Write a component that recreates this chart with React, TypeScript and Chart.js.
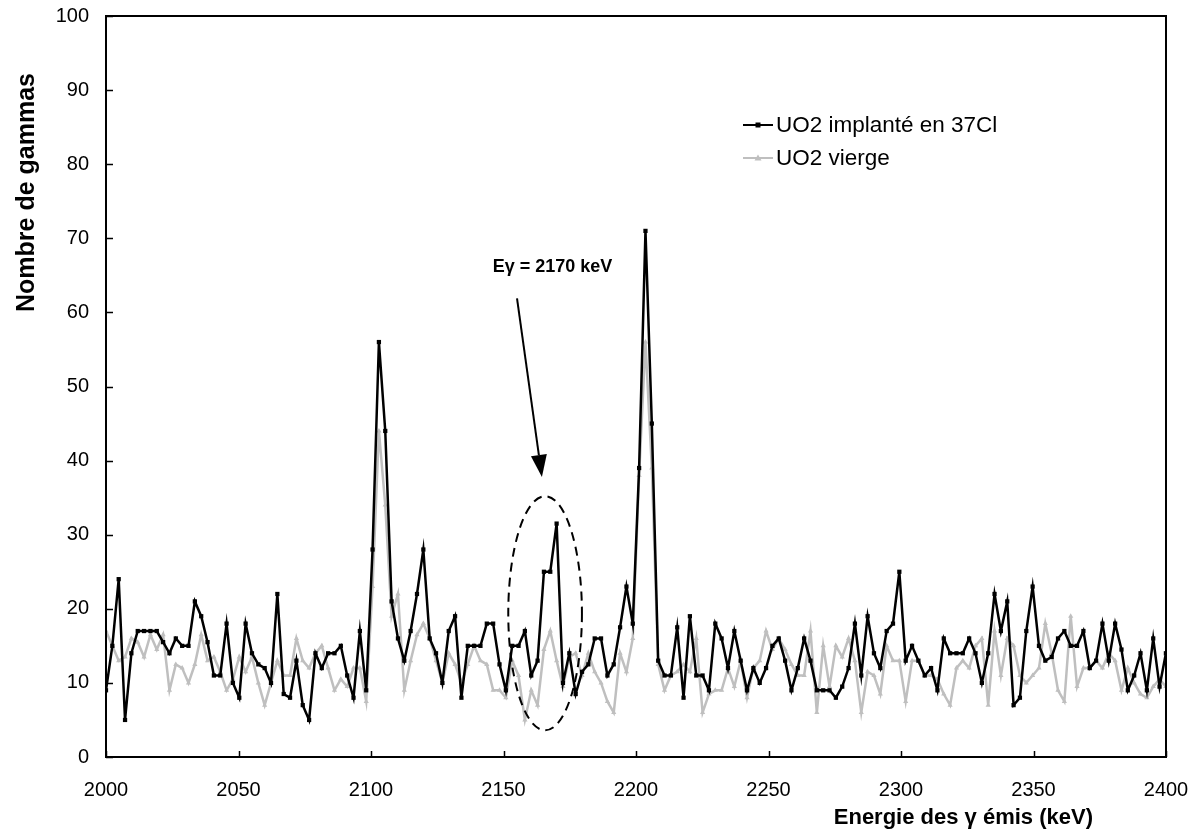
import React, { useEffect, useRef } from 'react';
import { Chart, registerables } from 'chart.js';

Chart.register(...registerables);

// Spectrum channel calibration (keV)
const ENERGY_START = 2000;
const CHANNEL_WIDTH = 2.395;

const X_MIN = 2000;
const X_MAX = 2400;
const X_STEP = 50;
const Y_MIN = 0;
const Y_MAX = 100;
const Y_STEP = 10;

const SERIES_LABELS = ['UO2 implanté en 37Cl', 'UO2 vierge'];
const X_TITLE = 'Energie des γ émis (keV)';
const Y_TITLE = 'Nombre de gammas';
const ANNOTATION_TEXT = 'Eγ = 2170 keV';

// counts per channel, implanted sample
const IMPLANTED = [
  9, 15, 24, 5, 14, 17, 17, 17, 17, 15.5,
  14, 16, 15, 15, 21, 19, 15.5, 11, 11, 18,
  10, 8, 18, 14, 12.5, 12, 10, 22, 8.5, 8,
  13, 7, 5, 14, 12, 14, 14, 15, 11, 8,
  17, 9, 28, 56, 44, 21, 16, 13, 17, 22,
  28, 16, 14, 10, 17, 19, 8, 15, 15, 15,
  18, 18, 12.5, 9, 15, 15, 17, 11, 13, 25,
  25, 31.5, 10, 14, 8.5, 11.5, 12.5, 16, 16, 11,
  12.5, 17.5, 23, 18, 39, 71, 45, 13, 11, 11,
  17.5, 8, 19, 11, 11, 9, 18, 16, 12, 17,
  13, 9, 12, 10, 12, 15, 16, 13, 9, 12,
  16, 13, 9, 9, 9, 8, 9.5, 12, 18, 11,
  19, 14, 12, 17, 18, 25, 13, 15, 13, 11,
  12, 9, 16, 14, 14, 14, 16, 14, 10, 14,
  22, 17, 21, 7, 8, 17, 23, 15, 13, 13.5,
  16, 17, 15, 15, 17, 12, 13, 18, 13, 18,
  14.5, 9, 11, 14, 9, 16, 9.5, 14,
];

// counts per channel, virgin sample
const VIRGIN = [
  17, 15, 13, 13.5, 16, 15.5, 13.5, 16.5, 14.5, 16.5,
  9, 12.5, 12, 10, 12.5, 16.5, 13, 13.5, 11.5, 9,
  10.5, 13.5, 11.5, 13.5, 10, 7, 10, 13, 11, 11,
  16, 13, 12, 14, 15, 12, 9, 10.5, 9.5, 12,
  12, 7.5, 23, 44, 34, 19, 22, 9, 13, 16.5,
  18, 16, 13, 10, 14, 12.5, 10, 12.5, 15, 13,
  12.5, 9, 9, 8, 13, 11, 5, 9, 7, 14.5,
  17, 13, 9.5, 13.5, 14, 11, 14, 11.5, 10, 7.5,
  6, 14, 11.5, 16, 38, 56, 39, 12.5, 9, 11,
  11.5, 12.5, 11.5, 16, 6, 8.5, 9, 9, 12, 9.5,
  13, 8, 12, 13, 17, 14.5, 16, 14.5, 12.5, 11,
  11, 17, 6, 15, 9.5, 15, 13.5, 16, 13, 6,
  11.5, 11, 8.5, 15, 13, 13, 7.5, 13, 13, 11,
  11, 10.5, 8.5, 7, 12, 13, 12, 15, 16, 7,
  17, 11, 16, 15, 11, 10, 11, 12, 18, 14,
  9, 7.5, 19, 9.5, 12, 12, 13, 12, 14, 13,
  9, 12, 10, 8.5, 8, 9.5, 10.5, 9.5,
];

// Annotation placed in data units (keV, counts)
const ELLIPSE = { cx: 2165.7, cy: 19.4, rx: 13.9, ry: 15.8 };
const ARROW = { x0: 2155.1, y0: 61.9, x1: 2164.5, y1: 37.8 };
const LABEL_POS = { x: 2168.5, y: 66.1 };

const BLACK = '#000000';
const GREY = '#bfbfbf';
const FONT = '"Liberation Sans", Arial, sans-serif';

const toPoints = (vals: number[]) =>
  vals.map((v, i) => ({ x: ENERGY_START + i * CHANNEL_WIDTH, y: v }));

const zeroPadding = (s: any) => {
  s.paddingTop = 0;
  s.paddingBottom = 0;
  s.paddingLeft = 0;
  s.paddingRight = 0;
};

export default function App() {
  const ref = useRef<HTMLCanvasElement | null>(null);

  useEffect(() => {
    if (!ref.current) return;

    const overlay = {
      id: 'overlay',
      afterDatasetsDraw(chart: any) {
        const { ctx, chartArea: a, scales } = chart;
        const x = scales.x;
        const y = scales.y;
        ctx.save();
        // frame
        ctx.strokeStyle = '#000';
        ctx.lineWidth = 2;
        ctx.setLineDash([]);
        ctx.strokeRect(a.left, a.top, a.right - a.left, a.bottom - a.top);
        // inside tick marks
        ctx.lineWidth = 1.5;
        ctx.beginPath();
        y.ticks.forEach((t: any) => {
          const py = Math.round(y.getPixelForValue(t.value)) + 0.5;
          ctx.moveTo(a.left, py);
          ctx.lineTo(a.left + 7, py);
        });
        x.ticks.forEach((t: any) => {
          const px = Math.round(x.getPixelForValue(t.value)) + 0.5;
          ctx.moveTo(px, a.bottom);
          ctx.lineTo(px, a.bottom - 6);
        });
        ctx.stroke();

        // dashed ellipse
        const ecx = x.getPixelForValue(ELLIPSE.cx);
        const ecy = y.getPixelForValue(ELLIPSE.cy);
        const erx = Math.abs(x.getPixelForValue(ELLIPSE.cx + ELLIPSE.rx) - ecx);
        const ery = Math.abs(y.getPixelForValue(ELLIPSE.cy + ELLIPSE.ry) - ecy);
        ctx.lineWidth = 2;
        ctx.setLineDash([9, 6]);
        ctx.beginPath();
        ctx.ellipse(ecx, ecy, erx, ery, 0, 0, Math.PI * 2);
        ctx.stroke();
        ctx.setLineDash([]);

        // arrow
        const ax0 = x.getPixelForValue(ARROW.x0);
        const ay0 = y.getPixelForValue(ARROW.y0);
        const ax1 = x.getPixelForValue(ARROW.x1);
        const ay1 = y.getPixelForValue(ARROW.y1);
        const ang = Math.atan2(ay1 - ay0, ax1 - ax0);
        const headLen = 22;
        const headW = 8;
        const bx = ax1 - headLen * Math.cos(ang);
        const by = ay1 - headLen * Math.sin(ang);
        ctx.lineWidth = 2;
        ctx.beginPath();
        ctx.moveTo(ax0, ay0);
        ctx.lineTo(bx, by);
        ctx.stroke();
        ctx.fillStyle = '#000';
        ctx.beginPath();
        ctx.moveTo(ax1, ay1);
        ctx.lineTo(bx + headW * Math.sin(ang), by - headW * Math.cos(ang));
        ctx.lineTo(bx - headW * Math.sin(ang), by + headW * Math.cos(ang));
        ctx.closePath();
        ctx.fill();

        // annotation text
        ctx.font = `bold 18px ${FONT}`;
        ctx.textAlign = 'center';
        ctx.textBaseline = 'middle';
        ctx.fillText(
          ANNOTATION_TEXT,
          x.getPixelForValue(LABEL_POS.x),
          y.getPixelForValue(LABEL_POS.y)
        );

        // legend
        const ds = chart.data.datasets;
        const legendX = 743;
        const legendY = [125, 158];
        ds.forEach((d: any, i: number) => {
          const ly = legendY[i];
          ctx.strokeStyle = d.borderColor;
          ctx.fillStyle = d.borderColor;
          ctx.lineWidth = 2;
          ctx.beginPath();
          ctx.moveTo(legendX, ly);
          ctx.lineTo(legendX + 30, ly);
          ctx.stroke();
          const mx = legendX + 15;
          ctx.beginPath();
          if (d.pointStyle === 'rect') {
            ctx.rect(mx - 2.5, ly - 2.5, 5, 5);
          } else {
            ctx.moveTo(mx, ly - 3.5);
            ctx.lineTo(mx + 3.5, ly + 2.5);
            ctx.lineTo(mx - 3.5, ly + 2.5);
            ctx.closePath();
          }
          ctx.fill();
          ctx.fillStyle = '#000';
          ctx.font = `22.5px ${FONT}`;
          ctx.textAlign = 'left';
          ctx.textBaseline = 'middle';
          ctx.fillText(d.label, legendX + 33, ly + 1);
        });

        // axis titles
        ctx.fillStyle = '#000';
        ctx.font = `bold 22px ${FONT}`;
        ctx.textAlign = 'right';
        ctx.textBaseline = 'middle';
        ctx.fillText(X_TITLE, 1093, 818);

        ctx.save();
        ctx.translate(34, 192.5);
        ctx.rotate(-Math.PI / 2);
        ctx.font = `bold 25px ${FONT}`;
        ctx.textAlign = 'center';
        ctx.textBaseline = 'alphabetic';
        ctx.fillText(Y_TITLE, 0, 0);
        ctx.restore();

        ctx.restore();
      },
    };

    const chart = new Chart(ref.current, {
      type: 'line',
      data: {
        datasets: [
          {
            label: SERIES_LABELS[0],
            data: toPoints(IMPLANTED),
            borderColor: BLACK,
            backgroundColor: BLACK,
            borderWidth: 2.5,
            pointStyle: 'rect',
            pointRadius: 3,
            pointBorderWidth: 0,
            tension: 0,
            order: 0,
          },
          {
            label: SERIES_LABELS[1],
            data: toPoints(VIRGIN),
            borderColor: GREY,
            backgroundColor: GREY,
            borderWidth: 2.5,
            pointStyle: 'triangle',
            pointRadius: 3,
            pointBorderWidth: 0,
            tension: 0,
            order: 1,
          },
        ],
      },
      options: {
        animation: false,
        responsive: false,
        devicePixelRatio: 1,
        layout: { padding: { left: 0, top: 16, right: 26, bottom: 0 } },
        plugins: {
          legend: { display: false },
          tooltip: { enabled: false },
          title: { display: false },
        },
        scales: {
          x: {
            type: 'linear',
            min: X_MIN,
            max: X_MAX,
            grid: { display: false, drawTicks: false },
            border: { display: false },
            ticks: {
              stepSize: X_STEP,
              padding: 21,
              color: '#000',
              font: { family: FONT, size: 20 },
              maxRotation: 0,
              autoSkip: false,
              callback: (v: any) => String(v),
            },
            afterFit: (s: any) => {
              s.height = 79;
              zeroPadding(s);
            },
          },
          y: {
            type: 'linear',
            min: Y_MIN,
            max: Y_MAX,
            grid: { display: false, drawTicks: false },
            border: { display: false },
            ticks: {
              stepSize: Y_STEP,
              padding: 17,
              color: '#000',
              font: { family: FONT, size: 20 },
            },
            afterFit: (s: any) => {
              s.width = 106;
              zeroPadding(s);
            },
          },
        },
      },
      plugins: [overlay],
    });

    return () => chart.destroy();
  }, []);

  return (
    <div style={{ position: 'fixed', left: 0, top: 0, width: 1192, height: 836, background: '#fff' }}>
      <canvas ref={ref} width={1192} height={836} style={{ width: 1192, height: 836, display: 'block' }} />
    </div>
  );
}
